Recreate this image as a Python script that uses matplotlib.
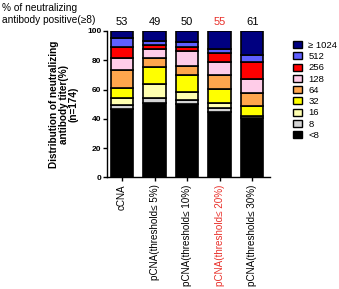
import numpy as np
import matplotlib
matplotlib.use("Agg")
import matplotlib.pyplot as plt
from matplotlib.patches import Patch

plt.rcParams['font.family'] = ['Liberation Sans', 'DejaVu Sans']

groups = ["cCNA", "pCNA(threshold\u2264 5%)", "pCNA(threshold\u2264 10%)",
          "pCNA(threshold\u2264 20%)", "pCNA(threshold\u2264 30%)"]
positive = ["53", "49", "50", "55", "61"]
titers = ["<8", "8", "16", "32", "64", "128", "256", "512", "\u2265 1024"]
colors = ["#000000", "#d4d4d4", "#ffffb0", "#ffff00", "#ffa64d",
          "#ffcce8", "#ff0000", "#6060ff", "#000080"]

# % of samples per titer, bottom to top (<8 ... >=1024)
values = [
    [47.0, 2.5, 4.5, 7.0, 12.0, 8.5, 7.5, 6.5, 4.5],
    [51.0, 3.5, 9.0, 12.0, 6.2, 5.9, 2.9, 2.6, 6.9],
    [50.0, 2.7, 5.7, 11.6, 6.1, 10.2, 3.0, 3.0, 7.7],
    [45.0, 2.7, 3.3, 9.2, 9.6, 8.8, 6.6, 2.5, 12.3],
    [40.5, 0.0, 1.5, 7.0, 8.5, 10.0, 11.5, 4.6, 16.4],
]

fig = plt.figure(figsize=(3.39, 2.89), dpi=100)
ax = fig.add_axes([0.316, 0.386, 0.48, 0.507])

x = np.arange(len(groups))
data = np.array(values)
bottom = np.zeros(len(groups))
for j in range(len(titers)):
    ax.bar(x, data[:, j], 0.69, bottom=bottom, color=colors[j],
           edgecolor="black", linewidth=1.2)
    bottom += data[:, j]

ax.set_xlim(-0.46, 4.54)
ax.set_ylim(0, 100)
ax.set_yticks([0, 20, 40, 60, 80, 100])
ax.tick_params(axis="y", labelsize=6, length=3, width=1, pad=1)
ax.tick_params(axis="x", labelsize=7.1, length=3, width=1, pad=2)
for lab in ax.get_yticklabels():
    lab.set_fontweight("bold")
ax.set_xticks(x)
ax.set_xticklabels(groups, rotation=90)
ax.get_xticklabels()[3].set_color("#e8302a")
for s in ["top", "right"]:
    ax.spines[s].set_visible(False)
for s in ["left", "bottom"]:
    ax.spines[s].set_linewidth(1)

ax.set_ylabel("Distribution of neutralizing\nantibody titer(%)\n(n=174)",
              fontsize=7.2, fontweight="bold", labelpad=6, linespacing=1.0)

for i, p in enumerate(positive):
    ax.text(x[i], 103, p, ha="center", va="bottom", fontsize=8,
            color="#e8302a" if i == 3 else "black")

fig.text(0.005, 0.99, "% of neutralizing\nantibody positive(\u22658)",
         ha="left", va="top", fontsize=7.3, linespacing=1.3)

handles = [Patch(facecolor=colors[j], edgecolor="black", linewidth=1)
           for j in range(len(titers))][::-1]
fig.legend(handles, titers[::-1], loc="upper left",
           bbox_to_anchor=(0.85, 0.875), frameon=False, fontsize=6.8,
           handlelength=0.95, handleheight=0.75, handletextpad=0.7,
           labelspacing=0.24, borderpad=0)

fig.savefig("out.png", dpi=100)
